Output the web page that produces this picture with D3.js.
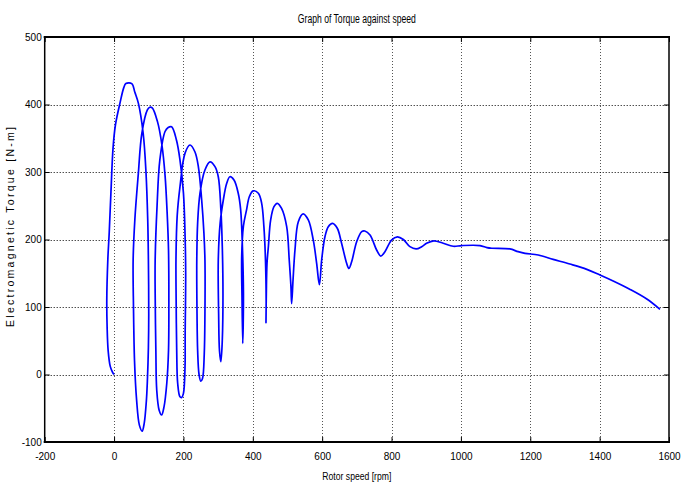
<!DOCTYPE html>
<html>
<head>
<meta charset="utf-8">
<script src="https://cdn.jsdelivr.net/npm/d3@7"></script>
<style>
  html, body { margin: 0; padding: 0; background: #fff; }
  svg { display: block; }
  .tick text { font-family: "Liberation Sans Narrow", "Arial Narrow", "Liberation Sans", sans-serif; font-size: 10px; fill: #000; }
</style>
</head>
<body>
<svg id="chart" width="691" height="489"></svg>
<script>
// Rotor speed (rpm) and electromagnetic torque (N-m), sampled along the run-up
const speed = [
  0, -4, -11, -17, -20, -21, -18, -14, -9, -3, 4, 17, 28, 34, 51, 60, 70, 84, 92, 97, 99, 100, 99, 96, 93, 87, 81, 73, 65, 59, 56, 55,
  60, 70, 80, 96, 103, 110, 125, 138, 147, 153, 157, 158, 157, 152, 144, 137, 130, 123, 120.5, 118.5, 118.5,
  124, 132, 147, 156, 166, 180, 190, 200, 205, 206.5, 205, 204.6, 200, 195, 190, 183.4, 180.6, 179, 178.5,
  182, 190, 204.6, 219, 233, 243, 252.6, 259, 262, 262, 260, 255, 250, 245, 241, 239, 238.5,
  241, 247.7, 262, 276.6, 291, 300.5, 308, 312, 314, 312, 308, 304, 301.5, 300.5,
  306, 315, 324.6, 334, 345.8, 358, 365, 370, 373, 371, 369, 368,
  373, 382, 390, 401, 416, 425.6, 432, 436.5, 438.5, 438, 439, 441,
  445, 451.5, 461, 470.6, 483, 497.7, 505, 510, 512, 516, 521.6, 531, 545, 560, 574.4, 584, 592,
  598.6, 608, 617.6, 630, 643.6, 656, 670.6, 677, 685, 699.5, 714, 723, 738, 757, 769, 781, 800, 817,
  834, 853, 871, 887, 901, 922, 949, 978, 1002, 1055, 1075, 1089, 1141, 1165, 1185, 1223, 1266, 1314,
  1363, 1401, 1439, 1488, 1536, 1574
];
const torque = [
  0, 3, 12, 35, 70, 110, 170, 210, 270, 335, 370, 402, 425, 431, 431, 418, 402, 357, 300, 230, 170, 90, 40, -10, -40, -72, -84, -75, -38, 20, 100, 170,
  230, 298, 357, 392, 396, 395, 375, 340, 295, 240, 184, 100, 36, -13, -48, -60, -53, -23, 36, 120, 170,
  250, 318, 360, 366, 367, 347, 318, 269, 200, 150, 60, 11.6, -28, -34, -33, -13, 36, 110, 170,
  235, 278, 328, 340, 330, 308, 258.5, 210, 170, 90, 30, -6, -10, 0, 35, 100, 170,
  225, 268.5, 303, 315, 308, 293, 244, 190, 120, 50, 19, 35, 90, 170,
  225, 258.5, 283, 293, 288, 268.5, 244, 190, 120, 46, 110, 175,
  220, 244, 263.4, 272, 268.5, 253.6, 219, 170, 110, 77, 120, 165,
  190, 229, 248.6, 253.6, 246, 219, 170, 130, 105, 140, 184.5, 226, 238, 229, 199, 165, 133,
  170, 204, 219, 224, 216.6, 194.4, 164.7, 157, 167, 196.7, 211.6, 212.6, 206.7, 184.5, 175.5, 182, 199, 204,
  200, 189.4, 186, 189.4, 194.4, 198, 194.4, 190, 191, 191, 188, 187, 186, 182, 179.5, 177, 170.6, 163.7,
  155.8, 147.4, 138.5, 126, 111.8, 96.6
];

// Axis ticks and labels
const xTicks = [-200, 0, 200, 400, 600, 800, 1000, 1200, 1400, 1600];
const yTicks = [-100, 0, 100, 200, 300, 400, 500];
const titleText = "Graph of Torque against speed";
const xLabelText = "Rotor speed [rpm]";
const yLabelText = "Electromagnetic  Torque [N-m]";

const plotLeft = 44.7, plotRight = 669, plotTop = 37, plotBottom = 442;

const svg = d3.select("#chart");
svg.append("rect").attr("width", 691).attr("height", 489).attr("fill", "#fff");

const x = d3.scaleLinear().domain([-200, 1600]).range([plotLeft, plotRight]);
const y = d3.scaleLinear().domain([-100, 500]).range([plotBottom, plotTop]);

// Dotted grid
const grid = svg.append("g")
  .attr("stroke", "#000")
  .attr("stroke-width", 1)
  .attr("stroke-dasharray", "1,2");
grid.selectAll("line.v").data(xTicks.slice(1, -1)).join("line")
  .attr("class", "v")
  .attr("x1", d => Math.round(x(d)) + 0.5).attr("x2", d => Math.round(x(d)) + 0.5)
  .attr("y1", plotTop).attr("y2", plotBottom)
  .attr("stroke", "#555");
grid.selectAll("line.h").data(yTicks.slice(1, -1)).join("line")
  .attr("class", "h")
  .attr("y1", d => Math.round(y(d)) + 0.5).attr("y2", d => Math.round(y(d)) + 0.5)
  .attr("x1", plotLeft).attr("x2", plotRight);

// Axes with inward ticks
const xAxis = svg.append("g")
  .attr("transform", `translate(0,${plotBottom})`)
  .call(d3.axisBottom(x).tickValues(xTicks).tickSize(-5).tickPadding(11).tickFormat(d3.format("d")));
const yAxis = svg.append("g")
  .attr("transform", `translate(${plotLeft},0)`)
  .call(d3.axisLeft(y).tickValues(yTicks).tickSize(-5).tickPadding(3).tickFormat(d3.format("d")));
svg.append("g")
  .attr("transform", `translate(0,${plotTop})`)
  .call(d3.axisTop(x).tickValues(xTicks).tickSize(-5).tickFormat(""));
svg.append("g")
  .attr("transform", `translate(${plotRight},0)`)
  .call(d3.axisRight(y).tickValues(yTicks).tickSize(-5).tickFormat(""));
svg.selectAll(".domain").remove();
svg.selectAll(".tick line").attr("stroke", "#000");
xAxis.selectAll(".tick text").text(d => d < 0 ? "-" + Math.abs(d) : d);
yAxis.selectAll(".tick text").text(d => d < 0 ? "-" + Math.abs(d) : d);

// Torque-speed trajectory
const line = d3.line()
  .x((d, i) => x(speed[i]))
  .y((d, i) => y(torque[i]))
  .curve(d3.curveCatmullRom.alpha(0.5));
svg.append("path")
  .datum(speed)
  .attr("d", line)
  .attr("fill", "none")
  .attr("stroke", "#0000ff")
  .attr("stroke-width", 1.7)
  .attr("stroke-linejoin", "round");

// Plot frame
const frame = svg.append("g").attr("stroke", "#000").attr("stroke-linecap", "square");
frame.append("line").attr("x1", plotLeft).attr("x2", plotRight).attr("y1", plotTop).attr("y2", plotTop).attr("stroke-width", 2);
frame.append("line").attr("x1", plotLeft).attr("x2", plotRight).attr("y1", plotBottom).attr("y2", plotBottom).attr("stroke-width", 2);
frame.append("line").attr("x1", plotLeft).attr("x2", plotLeft).attr("y1", plotTop).attr("y2", plotBottom).attr("stroke-width", 1.5);
frame.append("line").attr("x1", plotRight).attr("x2", plotRight).attr("y1", plotTop).attr("y2", plotBottom).attr("stroke-width", 1.5);

// Title and axis labels
svg.append("text")
  .attr("x", (plotLeft + plotRight) / 2).attr("y", 23)
  .attr("text-anchor", "middle")
  .attr("font-family", "'Liberation Sans Narrow', 'Arial Narrow', sans-serif")
  .attr("font-size", 12)
  .attr("textLength", 118).attr("lengthAdjust", "spacingAndGlyphs")
  .text(titleText);
svg.append("text")
  .attr("x", (plotLeft + plotRight) / 2).attr("y", 480)
  .attr("text-anchor", "middle")
  .attr("font-family", "'Liberation Sans Narrow', 'Arial Narrow', sans-serif")
  .attr("font-size", 11.5)
  .attr("textLength", 69).attr("lengthAdjust", "spacingAndGlyphs")
  .text(xLabelText);
svg.append("text")
  .attr("transform", "translate(13.5,227) rotate(-90)")
  .attr("text-anchor", "middle")
  .attr("font-family", "'Liberation Sans', Arial, sans-serif")
  .attr("font-size", 10.5)
  .attr("textLength", 200).attr("lengthAdjust", "spacing")
  .text(yLabelText);
</script>
</body>
</html>
